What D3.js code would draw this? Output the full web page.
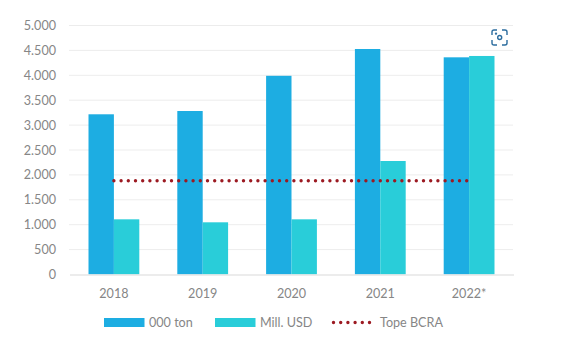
<!DOCTYPE html>
<html>
<head>
<meta charset="utf-8">
<script src="https://cdn.jsdelivr.net/npm/d3@7"></script>
<style>
  html, body { margin: 0; padding: 0; background: #fff; }
  svg { display: block; }
  text { font-family: Lato, "Open Sans", sans-serif; fill: #868686; }
</style>
</head>
<body>
<div id="chart"></div>
<script>
  var years = ["2018", "2019", "2020", "2021", "2022*"];
  var tons = [3217, 3283, 3990, 4528, 4361];
  var usd = [1108, 1048, 1108, 2279, 4388];
  var tope = [1884, 1884, 1884, 1884, 1884];
  var yTicks = [0, 500, 1000, 1500, 2000, 2500, 3000, 3500, 4000, 4500, 5000];
  var seriesNames = ["000 ton", "Mill. USD", "Tope BCRA"];

  var width = 580,
      height = 353,
      margin = { top: 25.5, right: 66.5, bottom: 78.5, left: 69.5 },
      chartWidth = width - margin.left - margin.right,
      chartHeight = height - margin.top - margin.bottom,
      fontSize = "12.6px";

  var tonColor = "#1dade2",
      usdColor = "#29cdd9",
      topeColor = "#9c1a22";

  var svg = d3.select("#chart").append("svg")
      .attr("width", width)
      .attr("height", height);

  var g = svg.append("g")
      .attr("transform", "translate(" + margin.left + "," + margin.top + ")");

  var x = d3.scaleBand()
      .domain(years)
      .range([0, chartWidth])
      .paddingInner(0.428)
      .paddingOuter(0.214);

  var x1 = d3.scaleBand()
      .domain([0, 1])
      .range([0, x.bandwidth()]);

  var y = d3.scaleLinear()
      .domain([0, 5000])
      .range([chartHeight, 0]);

  // gridlines, dotted and pale
  g.append("g")
    .selectAll("line")
    .data(yTicks.filter(d => d > 0))
    .join("line")
      .attr("x1", 0)
      .attr("x2", chartWidth)
      .attr("y1", d => y(d))
      .attr("y2", d => y(d))
      .attr("stroke", "#d9d9d9")
      .attr("stroke-width", 1)
      .attr("stroke-dasharray", "1 1");

  var yAxis = d3.axisLeft(y)
      .tickValues(yTicks)
      .tickSize(0)
      .tickPadding(13.5)
      .tickFormat(d => d3.format(",")(d).replace(",", "."));

  g.append("g")
      .call(yAxis)
      .call(a => a.select(".domain").remove())
      .selectAll("text")
      .attr("font-size", fontSize)
      .style("font-family", "Lato, sans-serif");

  [tons, usd].forEach(function(values, i) {
    g.append("g")
      .selectAll("rect")
      .data(values)
      .join("rect")
        .attr("x", (d, j) => x(years[j]) + x1(i))
        .attr("y", d => y(d))
        .attr("width", x1.bandwidth())
        .attr("height", d => y(0) - y(d))
        .attr("fill", i == 0 ? tonColor : usdColor);
  });

  var xAxis = d3.axisBottom(x)
      .tickSize(0)
      .tickPadding(15);

  g.append("g")
      .attr("transform", "translate(0," + chartHeight + ")")
      .call(xAxis)
      .call(a => a.select(".domain").attr("stroke", "#e6e6e6").attr("stroke-width", 1.5))
      .selectAll("text")
      .attr("font-size", fontSize)
      .style("font-family", "Lato, sans-serif");

  var topeLine = d3.line()
      .x((d, i) => x(years[i]) + x.bandwidth() / 2)
      .y(d => y(d));

  g.append("path")
      .datum(tope)
      .attr("d", topeLine)
      .attr("fill", "none")
      .attr("stroke", topeColor)
      .attr("stroke-width", 3.4)
      .attr("stroke-linecap", "round")
      .attr("stroke-dasharray", "0 7.2");

  // legend
  var legend = svg.append("g");

  [[104, tonColor, 149], [215, usdColor, 260]].forEach(function(l, i) {
    legend.append("rect")
        .attr("x", l[0])
        .attr("y", 318)
        .attr("width", 40.5)
        .attr("height", 9)
        .attr("fill", l[1]);
    legend.append("text")
        .attr("x", l[2])
        .attr("y", 327)
        .attr("font-size", fontSize)
        .text(seriesNames[i]);
  });

  legend.append("line")
      .attr("x1", 333.5)
      .attr("x2", 373)
      .attr("y1", 322.5)
      .attr("y2", 322.5)
      .attr("stroke", topeColor)
      .attr("stroke-width", 3.4)
      .attr("stroke-linecap", "round")
      .attr("stroke-dasharray", "0 7.2");

  legend.append("text")
      .attr("x", 380)
      .attr("y", 327)
      .attr("font-size", fontSize)
      .text(seriesNames[2]);

  // scan icon top right
  var icon = svg.append("g")
      .attr("transform", "translate(492,30)")
      .attr("fill", "none")
      .attr("stroke", "#2b6c9e")
      .attr("stroke-width", 1.4);

  icon.append("path").attr("d", "M0 5V2Q0 0 2 0H5M10 0H13Q15 0 15 2V5M15 10V13Q15 15 13 15H10M5 15H2Q0 15 0 13V10");
  icon.append("circle").attr("cx", 7.7).attr("cy", 7.5).attr("r", 2);
  icon.append("circle").attr("cx", 4).attr("cy", 3.6).attr("r", 0.5);
</script>
</body>
</html>
